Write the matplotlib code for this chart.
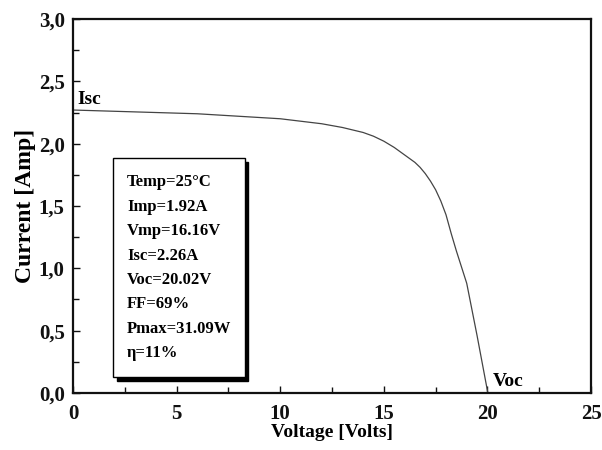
import matplotlib
matplotlib.use("Agg")
import matplotlib.pyplot as plt
from matplotlib.ticker import MultipleLocator, FuncFormatter
from matplotlib.patches import Rectangle

# I-V curve
voltage = [0, 2, 4, 6, 8, 9, 10, 11, 12, 13, 14, 14.5, 15, 15.5, 16, 16.5,
           16.75, 17, 17.25, 17.5, 17.75, 18, 18.25, 18.5, 19, 19.5, 20.02]
current = [2.27, 2.26, 2.25, 2.24, 2.22, 2.21, 2.20, 2.18, 2.16, 2.13, 2.09,
           2.06, 2.02, 1.97, 1.91, 1.85, 1.81, 1.76, 1.70, 1.63, 1.54, 1.43,
           1.28, 1.14, 0.88, 0.46, 0.0]

info_lines = ["Temp=25°C", "Imp=1.92A", "Vmp=16.16V", "Isc=2.26A",
              "Voc=20.02V", "FF=69%", "Pmax=31.09W", "η=11%"]

SERIF = ["Liberation Serif", "DejaVu Serif"]
TINTA = "#111111"

fig = plt.figure(figsize=(6.02, 4.5), dpi=100, facecolor="white")
ax = fig.add_axes([0.1213, 0.1267, 0.8605, 0.831])

ax.plot(voltage, current, color="#444444", linewidth=0.9)

ax.set_xlim(0, 25)
ax.set_ylim(0, 3)
ax.xaxis.set_major_locator(MultipleLocator(5))
ax.xaxis.set_minor_locator(MultipleLocator(2.5))
ax.yaxis.set_major_locator(MultipleLocator(0.5))
ax.yaxis.set_minor_locator(MultipleLocator(0.25))
ax.yaxis.set_major_formatter(FuncFormatter(lambda v, _: f"{v:.1f}".replace(".", ",")))
ax.xaxis.set_major_formatter(FuncFormatter(lambda v, _: f"{v:.0f}"))

for s in ax.spines.values():
    s.set_linewidth(1.6)
    s.set_color(TINTA)
ax.tick_params(which="both", direction="in", colors=TINTA, width=1.0)
ax.tick_params(which="major", length=5)
ax.tick_params(which="minor", length=4)
ax.tick_params(axis="x", which="major", pad=8)
ax.tick_params(axis="y", which="major", pad=6)
for lab in ax.get_xticklabels() + ax.get_yticklabels():
    lab.set_fontfamily(SERIF)
    lab.set_fontweight("bold")
    lab.set_fontsize(15)

ax.set_xlabel("Voltage [Volts]", fontfamily=SERIF, fontweight="bold",
              fontsize=14, labelpad=0)
ax.set_ylabel("Current [Amp]", fontfamily=SERIF, fontweight="bold",
              fontsize=17, labelpad=2)

ax.text(0.2, 2.32, "Isc", fontfamily=SERIF, fontweight="bold", fontsize=14,
        va="baseline", ha="left")
ax.text(20.25, 0.06, "Voc", fontfamily=SERIF, fontweight="bold", fontsize=14,
        va="baseline", ha="left")

# info box with dark shadow
x0, y0, w, h = 1.95, 0.13, 6.36, 1.755
ax.add_patch(Rectangle((x0 + 0.15, y0 - 0.03), w, h, facecolor="black",
                       edgecolor="black", zorder=3))
ax.add_patch(Rectangle((x0, y0), w, h, facecolor="white",
                       edgecolor="black", linewidth=1.0, zorder=4))
for i, t in enumerate(info_lines):
    ax.text(2.6, 1.69 - i * 0.196, t, fontfamily=SERIF,
            fontweight="bold", fontsize=12, va="center", ha="left",
            zorder=5)

fig.savefig("out.png", dpi=100, facecolor="white")
